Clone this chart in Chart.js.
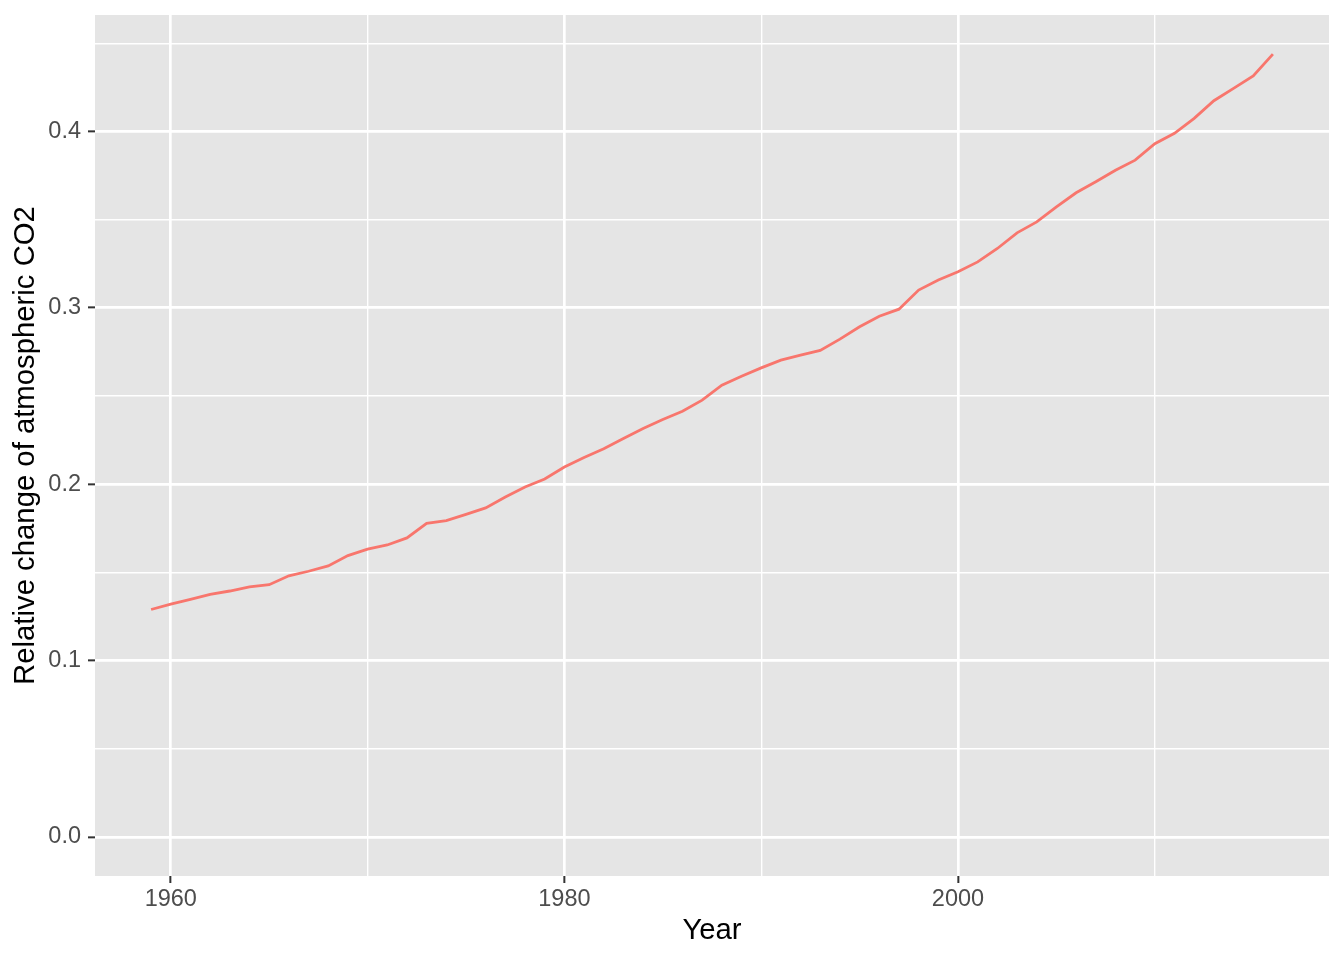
<!DOCTYPE html>
<html>
<head>
<meta charset="utf-8">
<script src="https://cdn.jsdelivr.net/npm/chart.js@4"></script>
<style>
  html, body { margin: 0; padding: 0; background: #fff; }
  #wrap { width: 1344px; height: 960px; }
</style>
</head>
<body>
<div id="wrap"><canvas id="grafico"></canvas></div>
<script>
const anos = [
  1959, 1960, 1961, 1962, 1963, 1964, 1965, 1966, 1967, 1968,
  1969, 1970, 1971, 1972, 1973, 1974, 1975, 1976, 1977, 1978,
  1979, 1980, 1981, 1982, 1983, 1984, 1985, 1986, 1987, 1988,
  1989, 1990, 1991, 1992, 1993, 1994, 1995, 1996, 1997, 1998,
  1999, 2000, 2001, 2002, 2003, 2004, 2005, 2006, 2007, 2008,
  2009, 2010, 2011, 2012, 2013, 2014, 2015, 2016,
];
const variacaoCO2 = [
  0.1289, 0.1320, 0.1347, 0.1375, 0.1394, 0.1417, 0.1430, 0.1480, 0.1506, 0.1536,
  0.1595, 0.1631, 0.1655, 0.1695, 0.1777, 0.1793, 0.1828, 0.1865, 0.1927, 0.1984,
  0.2029, 0.2097, 0.2151, 0.2200, 0.2259, 0.2315, 0.2366, 0.2413, 0.2476, 0.2561,
  0.2612, 0.2659, 0.2703, 0.2731, 0.2758, 0.2822, 0.2892, 0.2952, 0.2992, 0.3100,
  0.3157, 0.3204, 0.3260, 0.3336, 0.3425, 0.3487, 0.3572, 0.3652, 0.3714, 0.3780,
  0.3837, 0.3930, 0.3989, 0.4074, 0.4174, 0.4244, 0.4315, 0.4438,
];

const ticksXPrincipais = [1960, 1980, 2000];
const ticksXSecundarios = [1970, 1990, 2010];
const ticksYPrincipais = [0, 0.1, 0.2, 0.3, 0.4];
const ticksYSecundarios = [0.05, 0.15, 0.25, 0.35, 0.45];

const tituloX = "Year";
const tituloY = "Relative change of atmospheric CO2";

// faixa dos eixos como o ggplot faz (expansao de 5%)
const xMin = anos[0], xMax = anos[anos.length - 1];
const expX = (xMax - xMin) * 0.05;
const yTopo = Math.max(...variacaoCO2);
const expY = yTopo * 0.05;

const ehPrincipal = (lista, v) => lista.some((t) => Math.abs(t - v) < 1e-6);

const fundoPainel = {
  id: "fundoPainel",
  beforeDraw(chart) {
    const { ctx, chartArea: a } = chart;
    ctx.save();
    ctx.fillStyle = "#E5E5E5";
    ctx.fillRect(a.left, a.top, a.right - a.left, a.bottom - a.top);
    ctx.restore();
  },
};

const fonte = "'Liberation Sans', Arial, Helvetica, sans-serif";

new Chart(document.getElementById("grafico"), {
  type: "line",
  data: {
    datasets: [{
      data: anos.map((a, i) => ({ x: a, y: variacaoCO2[i] })),
      borderColor: "#F8766D",
      borderWidth: 2.8,
      pointRadius: 0,
      tension: 0,
      fill: false,
    }],
  },
  options: {
    responsive: true,
    maintainAspectRatio: false,
    animation: false,
    layout: { padding: { top: 15, right: 15, left: 0, bottom: 0 } },
    plugins: {
      legend: { display: false },
      tooltip: { enabled: false },
    },
    scales: {
      x: {
        type: "linear",
        min: xMin - expX,
        max: xMax + expX,
        afterBuildTicks: (scale) => {
          scale.ticks = [...ticksXPrincipais, ...ticksXSecundarios]
            .sort((a, b) => a - b)
            .map((v) => ({ value: v }));
        },
        afterFit: (scale) => {
          scale.height = 84;
          scale.paddingLeft = 0;
          scale.paddingRight = 0;
        },
        border: { display: false },
        grid: {
          color: "#FFFFFF",
          lineWidth: (ctx) => (ctx.tick && ehPrincipal(ticksXPrincipais, ctx.tick.value) ? 2.7 : 1.4),
          tickColor: (ctx) => (ctx.tick && ehPrincipal(ticksXPrincipais, ctx.tick.value) ? "#333333" : "rgba(0,0,0,0)"),
          tickWidth: 2,
          tickLength: 7,
        },
        ticks: {
          autoSkip: false,
          maxRotation: 0,
          padding: 2,
          color: "#4D4D4D",
          font: { family: fonte, size: 23.5 },
          callback: (v) => (ehPrincipal(ticksXPrincipais, v) ? String(v) : ""),
        },
        title: {
          display: true,
          text: tituloX,
          color: "#000000",
          font: { family: fonte, size: 29.3 },
          padding: { top: 0, bottom: 12 },
        },
      },
      y: {
        type: "linear",
        min: -expY,
        max: yTopo + expY,
        afterBuildTicks: (scale) => {
          scale.ticks = [...ticksYPrincipais, ...ticksYSecundarios]
            .sort((a, b) => a - b)
            .map((v) => ({ value: v }));
        },
        afterFit: (scale) => {
          scale.width = 95;
          scale.paddingTop = 0;
          scale.paddingBottom = 0;
        },
        border: { display: false },
        grid: {
          color: "#FFFFFF",
          lineWidth: (ctx) => (ctx.tick && ehPrincipal(ticksYPrincipais, ctx.tick.value) ? 2.7 : 1.4),
          tickColor: (ctx) => (ctx.tick && ehPrincipal(ticksYPrincipais, ctx.tick.value) ? "#333333" : "rgba(0,0,0,0)"),
          tickWidth: 2,
          tickLength: 7,
        },
        ticks: {
          autoSkip: false,
          padding: 7,
          color: "#4D4D4D",
          font: { family: fonte, size: 23.5 },
          callback: (v) => (ehPrincipal(ticksYPrincipais, v) ? Number(v).toFixed(1) : ""),
        },
        title: {
          display: true,
          text: tituloY,
          color: "#000000",
          font: { family: fonte, size: 29.3 },
          padding: { top: 8, bottom: 0 },
        },
      },
    },
  },
  plugins: [fundoPainel],
});
</script>
</body>
</html>
